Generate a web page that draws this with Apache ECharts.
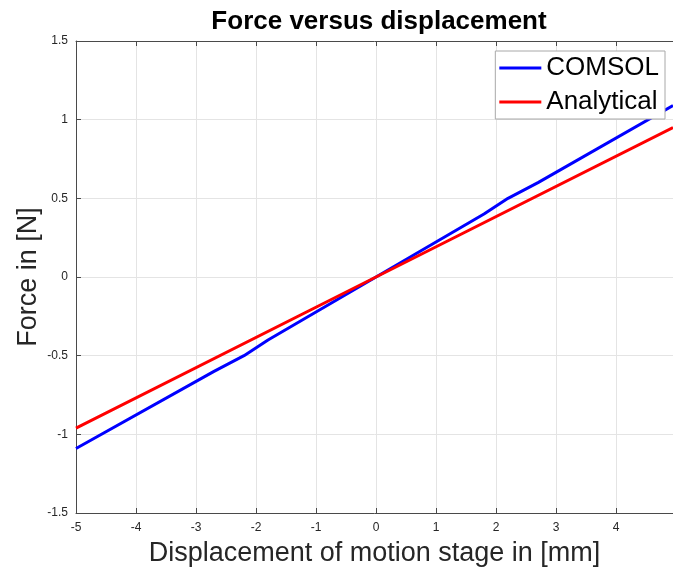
<!DOCTYPE html>
<html>
<head>
<meta charset="utf-8" />
<title>Force versus displacement</title>
<script src="https://cdn.jsdelivr.net/npm/echarts@6/dist/echarts.min.js"></script>
<style>
  html, body { margin: 0; padding: 0; background: #fff; }
  #main { width: 673px; height: 572px; }
</style>
</head>
<body>
<div id="main"></div>
<script>
// displacement [mm] / force [N]
var comsolX = [-5, -2.7, -2.2, -1.8, 0, 1.8, 2.2, 2.7, 4.95];
var comsolY = [-1.09, -0.6, -0.5, -0.4, 0, 0.4, 0.5, 0.6, 1.09];
var analyticX = [-5, 0, 4.95];
var analyticY = [-0.96, 0, 0.95];
var xTicks = [-5, -4, -3, -2, -1, 0, 1, 2, 3, 4];
var yTicks = [-1.5, -1, -0.5, 0, 0.5, 1, 1.5];

function pairs(xs, ys) {
  var out = [];
  for (var i = 0; i < xs.length; i++) out.push([xs[i], ys[i]]);
  return out;
}

var font = "'Liberation Sans', Arial, Helvetica, sans-serif";
var axisCol = '#4a4a4a';

var chart = echarts.init(document.getElementById('main'));
chart.setOption({
  animation: false,
  backgroundColor: '#fff',
  title: {
    text: 'Force versus displacement',
    left: 374, textAlign: 'center', top: 4,
    textStyle: { fontFamily: font, fontWeight: 'bold', fontSize: 26, color: '#000' }
  },
  grid: { left: 76, right: 0, top: 41, bottom: 58 },
  legend: {
    orient: 'vertical', right: 8, top: 51,
    data: ['COMSOL', 'Analytical'],
    icon: 'rect', itemWidth: 42, itemHeight: 3, itemGap: 8,
    backgroundColor: '#fff', borderColor: '#a8a8a8', borderWidth: 1,
    padding: [4, 6, 4, 4],
    textStyle: { fontFamily: font, fontSize: 26, color: '#000' }
  },
  xAxis: [{
    type: 'value', min: -5, max: 4.95, interval: 1,
    name: 'Displacement of motion stage in [mm]',
    nameLocation: 'middle', nameGap: 27, nameMoveOverlap: false,
    nameTextStyle: { fontFamily: font, fontSize: 27, color: '#262626' },
    axisLine: { show: true, onZero: false, lineStyle: { color: axisCol } },
    axisTick: { show: true, inside: true, length: 5, lineStyle: { color: axisCol } },
    axisLabel: {
      fontFamily: font, fontSize: 12, color: '#262626', margin: 9,
      showMaxLabel: false,
      formatter: function (v) { return xTicks.indexOf(v) >= 0 ? String(v) : ''; }
    },
    splitLine: { show: true, lineStyle: { color: '#e4e4e4' } }
  }, {
    type: 'value', position: 'top', min: -5, max: 4.95, interval: 1,
    axisLine: { show: true, onZero: false, lineStyle: { color: axisCol } },
    axisTick: { show: true, inside: true, length: 5, lineStyle: { color: axisCol } },
    axisLabel: { show: false },
    splitLine: { show: false }
  }],
  yAxis: {
    type: 'value', min: -1.5, max: 1.5, interval: 0.5,
    name: 'Force in [N]',
    nameLocation: 'middle', nameGap: 34, nameMoveOverlap: false,
    nameTextStyle: { fontFamily: font, fontSize: 27, color: '#262626' },
    axisLine: { show: true, onZero: false, lineStyle: { color: axisCol } },
    axisTick: { show: true, inside: true, length: 5, lineStyle: { color: axisCol } },
    axisLabel: {
      fontFamily: font, fontSize: 12, color: '#262626', margin: 8,
      formatter: function (v) { return yTicks.indexOf(v) >= 0 ? String(v) : ''; }
    },
    splitLine: { show: true, lineStyle: { color: '#e4e4e4' } }
  },
  series: [{
    name: 'COMSOL', type: 'line', xAxisIndex: 0,
    data: pairs(comsolX, comsolY),
    showSymbol: false, symbol: 'none',
    itemStyle: { color: '#0000ff' },
    lineStyle: { color: '#0000ff', width: 3 }
  }, {
    name: 'Analytical', type: 'line', xAxisIndex: 0,
    data: pairs(analyticX, analyticY),
    showSymbol: false, symbol: 'none',
    itemStyle: { color: '#ff0000' },
    lineStyle: { color: '#ff0000', width: 3 }
  }]
});
</script>
</body>
</html>
